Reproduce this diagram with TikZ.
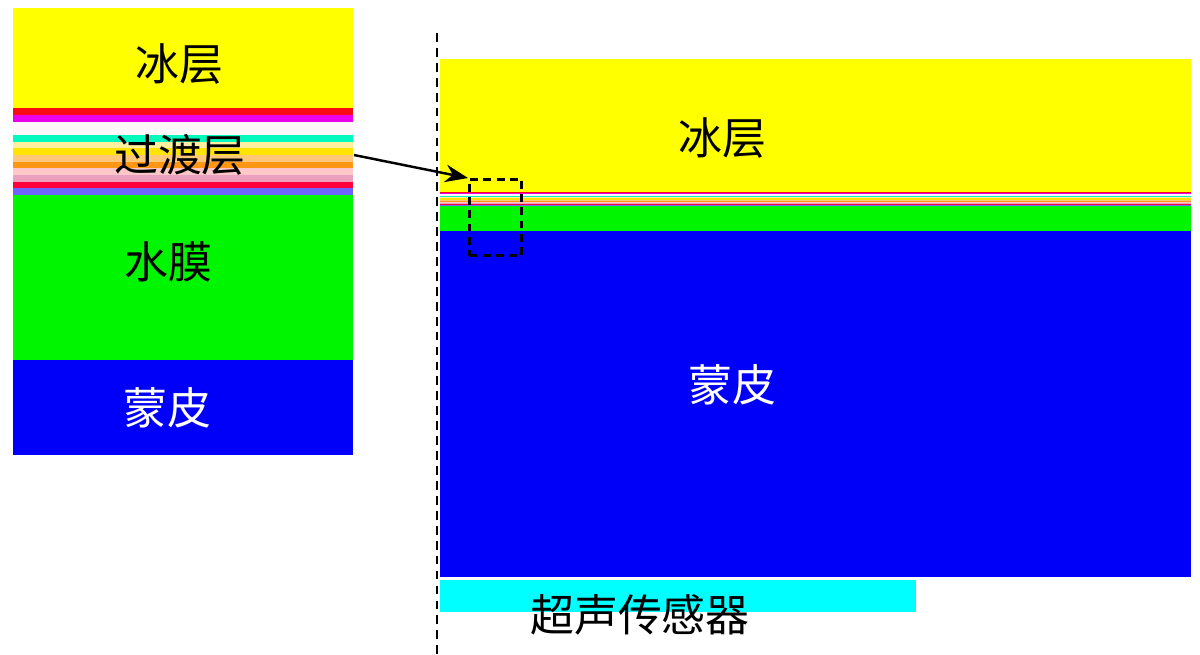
\documentclass[tikz,border=0pt]{standalone}
\usepackage{fontspec}
\newfontfamily\cjk{Noto Sans CJK SC}
\usetikzlibrary{arrows.meta}
\definecolor{cYel}{RGB}{255,255,0}
\definecolor{cGrn}{RGB}{0,245,0}
\definecolor{cBlu}{RGB}{0,0,250}
\definecolor{cCyan}{RGB}{0,255,255}
\definecolor{sRed}{RGB}{250,10,20}
\definecolor{sMag}{RGB}{235,0,235}
\definecolor{sWht}{RGB}{255,246,250}
\definecolor{sAqua}{RGB}{0,250,190}
\definecolor{sLYel}{RGB}{255,240,160}
\definecolor{sGold}{RGB}{255,228,0}
\definecolor{sLOra}{RGB}{255,200,120}
\definecolor{sOra}{RGB}{255,150,20}
\definecolor{sLPink}{RGB}{255,200,200}
\definecolor{sMauve}{RGB}{235,160,190}
\definecolor{sCrim}{RGB}{255,0,60}
\definecolor{sSlate}{RGB}{110,100,255}
\begin{document}
\begin{tikzpicture}[x=0.02cm,y=-0.02cm,
  lbl/.style={font=\cjk\fontsize{25}{25}\selectfont, inner sep=0pt},
  dashline/.style={line width=1.4pt, dash pattern=on 5pt off 3.5pt},
  boxdash/.style={draw=black, line width=1.7pt, dash pattern=on 4.5pt off 3pt, fill=none, inner sep=0pt}]
\useasboundingbox (0,0) rectangle (1200,654);
% left panel
\fill[cYel] (13,8) rectangle (353,108);
\fill[cGrn] (13,195) rectangle (353,360);
\fill[cBlu] (13,360) rectangle (353,455);
% right panel
\fill[cYel] (440,59) rectangle (1191,192);
\fill[cGrn] (440,206) rectangle (1191,231);
\fill[cBlu] (440,231) rectangle (1191,577);
\fill[cCyan] (440,580) rectangle (916,612);
% transition stripes
\foreach \a/\b/\c in {108/115/sRed,115/122/sMag,122/135/sWht,135/142/sAqua,142/148/sLYel,148/155/sGold,155/162/sLOra,162/168/sOra,168/175/sLPink,175/182/sMauve,182/188/sCrim,188/195/sSlate}{
  \fill[\c] (13,\a) rectangle (353,\b);
  \fill[\c] (440,{192+(\a-108)*0.1609}) rectangle (1191,{192+(\b-108)*0.1609});
}
% labels
\node[lbl] (ice1) at (179,64) {冰层};
\node[lbl] (trans1) at (180,155) {过渡层};
\node[lbl] (water1) at (168,262) {水膜};
\node[lbl, text=white] (skin1) at (167,408) {蒙皮};
\node[lbl] (ice2) at (722,138) {冰层};
\node[lbl, text=white] (skin2) at (732,385) {蒙皮};
\node[lbl] (sensor) at (640,615) {超声传感器};
% dashed axis
\coordinate (axtop) at (437,33);
\coordinate (axbot) at (437,654);
\draw[dashline] (axtop) -- (axbot);
% zoom box and arrow
\node[boxdash, minimum width=52*0.02cm, minimum height=76*0.02cm, anchor=north west] (zbox) at (468,178) {};
\coordinate (arrstart) at (354,155);
\draw[line width=1.4pt, -{Stealth[length=13pt,width=10pt]}] (arrstart) -- (zbox.north west);
\end{tikzpicture}
\end{document}
